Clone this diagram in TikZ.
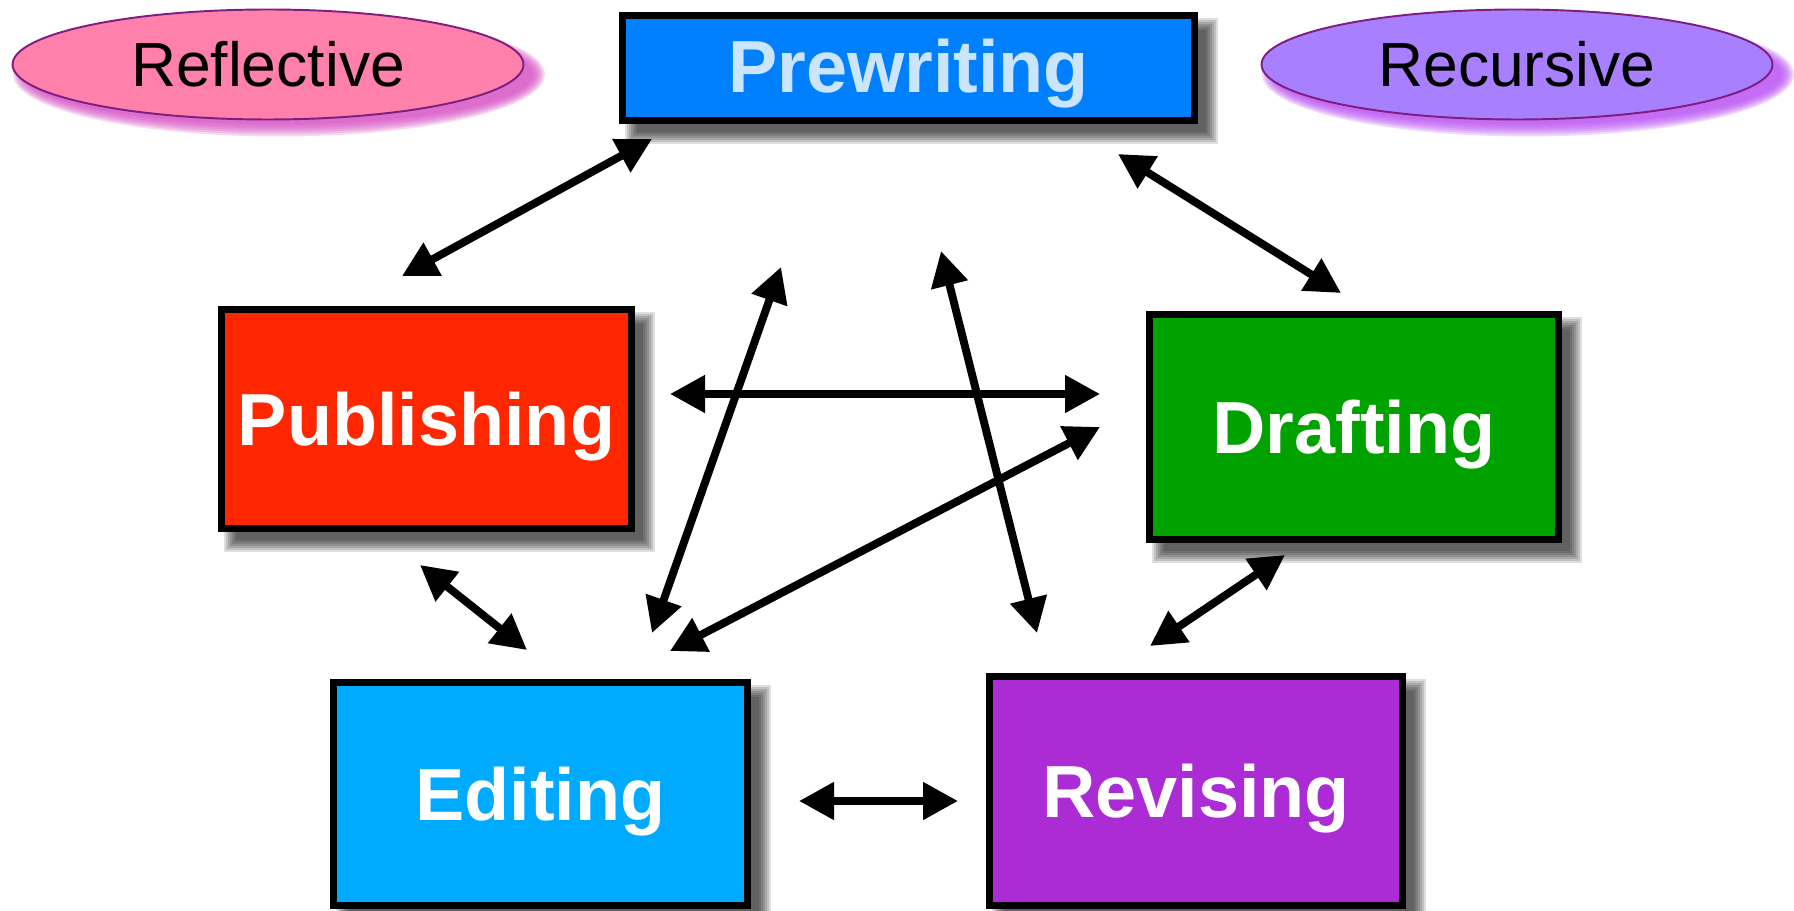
\documentclass[tikz,border=0pt]{standalone}
\usepackage{fontspec}
\setmainfont{Liberation Sans}
\usetikzlibrary{arrows.meta,shapes.geometric,calc,backgrounds}

\definecolor{prewriteblue}{HTML}{0080FF}
\definecolor{prewritetext}{HTML}{CCE5FF}
\definecolor{publishred}{HTML}{FF2600}
\definecolor{draftgreen}{HTML}{00A200}
\definecolor{editblue}{HTML}{00AAFF}
\definecolor{revisepurple}{HTML}{AB2BD5}
\definecolor{reflectpink}{HTML}{FF80AA}
\definecolor{reflectshadow}{HTML}{D64FC2}
\definecolor{recursepurple}{HTML}{A880FF}
\definecolor{recurseshadow}{HTML}{B84EF2}
\definecolor{moodborder}{HTML}{7E1E80}

\tikzset{
  stage/.style={draw=black, line width=3.8pt, inner sep=0pt, text=white,
    text depth=0pt, font=\fontsize{42}{50}\selectfont\bfseries},
  mood/.style={ellipse, draw=moodborder, line width=1.1pt, inner sep=0pt,
    minimum width=10.22cm, minimum height=2.2cm,
    font=\fontsize{35.5}{42}\selectfont},
  link/.style={line width=4.5pt,
    {Triangle[length=0.7cm,width=0.72cm]}-{Triangle[length=0.7cm,width=0.72cm]}}
}

\begin{document}
\begin{tikzpicture}[x=0.02cm, y=-0.02cm]
  \useasboundingbox (0,0) rectangle (1794,911);

  \node[mood, fill=reflectpink] (reflective) at (268,64.5) {Reflective};
  \node[mood, fill=recursepurple] (recursive) at (1517,64.5) {Recursive};

  \node[stage, fill=prewriteblue, text=prewritetext, text depth=2pt, minimum width=11.44cm, minimum height=2.1cm] (prewriting) at (908.5,68) {Prewriting};
  \node[stage, fill=publishred, minimum width=8.2cm, minimum height=4.38cm] (publishing) at (426.5,419) {Publishing};
  \node[stage, fill=draftgreen, minimum width=8.18cm, minimum height=4.5cm] (drafting) at (1354,427) {Drafting};
  \node[stage, fill=editblue, minimum width=8.28cm, minimum height=4.46cm] (editing) at (540.5,794) {Editing};
  \node[stage, fill=revisepurple, minimum width=8.26cm, minimum height=4.58cm] (revising) at (1196,791) {Revising};

  % soft shadows
  \begin{scope}[on background layer]
    \foreach \n in {prewriting,publishing,drafting,editing,revising}
      \foreach \k in {0,...,6}
        \fill[black, opacity=0.13] ($(\n.north west)+(6+2*\k,6+2*\k)$) rectangle ($(\n.south east)+(20-2*\k,20-2*\k)$);
    \foreach \k in {0,...,6}{
      \fill[reflectshadow, opacity=0.22] ($(reflective.center)+(11,10)$) ellipse [x radius=5.32cm-0.04cm*\k, y radius=1.24cm-0.04cm*\k];
      \fill[recurseshadow, opacity=0.22] ($(recursive.center)+(11,10)$) ellipse [x radius=5.32cm-0.04cm*\k, y radius=1.24cm-0.04cm*\k];
    }
  \end{scope}

  \coordinate (pw1) at (652,139);   \coordinate (pb1) at (402,276);
  \coordinate (pw2) at (1118,154);  \coordinate (dr2) at (1341,293);
  \coordinate (pb3) at (670,394);   \coordinate (dr3) at (1100,394);
  \coordinate (ed4) at (652,633);   \coordinate (up4) at (781,267);
  \coordinate (rv5) at (1037,633);  \coordinate (up5) at (941,251);
  \coordinate (ed6) at (670,651);   \coordinate (dr6) at (1100,427);
  \coordinate (pb7) at (420,565);   \coordinate (ed7) at (527,650);
  \coordinate (dr8) at (1285,555);  \coordinate (rv8) at (1150,646);
  \coordinate (ed9) at (799,801);   \coordinate (rv9) at (958,801);

  \draw[link] (pw1) -- (pb1);
  \draw[link] (pw2) -- (dr2);
  \draw[link] (pb3) -- (dr3);
  \draw[link] (ed4) -- (up4);
  \draw[link] (rv5) -- (up5);
  \draw[link] (ed6) -- (dr6);
  \draw[link] (pb7) -- (ed7);
  \draw[link] (dr8) -- (rv8);
  \draw[link] (ed9) -- (rv9);
\end{tikzpicture}
\end{document}
